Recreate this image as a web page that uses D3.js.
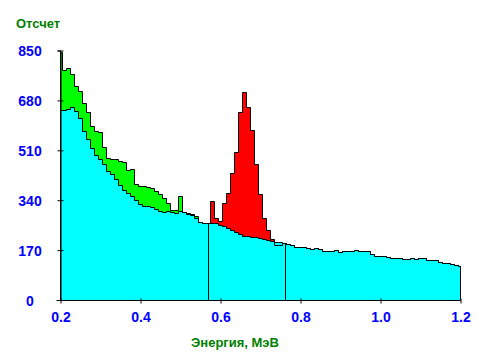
<!DOCTYPE html>
<html><head><meta charset="utf-8">
<script src="https://cdn.jsdelivr.net/npm/d3@7"></script>
<style>body{margin:0;background:#fff}svg{display:block}</style>
</head><body><svg id="c" width="500" height="360"></svg>
<script>
// channel centres: 0.20, 0.21 ... 1.20 MeV (width 0.01)
const energyStart = 0.2, energyStep = 0.01, energyMin = 0.2, energyMax = 1.2;
const total = [845,785,792,771,730,712,671,641,593,576,572,521,484,480,479,474,470,444,446,395,
  389,389,386,380,370,361,347,330,306,305,355,301,295,293,286,266,264,261,337,281,
  269,332,364,431,503,641,710,659,579,464,362,281,237,207,189,189,
  194,190,188,181,181,181,177,174,177,174,167,167,167,171,164,167,167,167,171,166,
  167,167,157,149,149,149,146,142,142,142,139,139,142,139,142,142,136,136,136,130,
  126,126,123,120,115];
const background = [648,646,651,658,643,620,576,549,517,495,480,464,440,430,412,393,375,364,354,340,
  328,320,320,316,310,303,299,303,300,296,304,299,292,288,278,266,264,261,264,261,
  256,252,246,239,230,224,217,217,214,214,210,208,204,202,198,198,
  194,190,188,181,181,181,177,174,177,174,167,167,167,171,164,167,167,167,171,166,
  167,167,157,149,149,149,146,142,142,142,139,139,142,139,142,142,136,136,136,130,
  126,126,123,120,115];
const roiBounds = [0.57, 0.76];
const xTicks = [0.2, 0.4, 0.6, 0.8, 1.0, 1.2];
const xTickLabels = ["0.2", "0.4", "0.6", "0.8", "1.0", "1.2"];
const yTicks = [0, 170, 340, 510, 680, 850];
const yTickLabels = ["0", "170", "340", "510", "680", "850"];

const svg = d3.select("#c");
const x = d3.scaleLinear().domain([energyMin, energyMax]).range([60.5, 460.5]);
const y = d3.scaleLinear().domain([0, 850]).range([300, 50.5]);
const py = v => Math.round(y(v)) + 0.5;

const chans = total.map((t, i) => {
  const e = energyStart + energyStep * i;
  return { e, x0: Math.max(energyMin, e - energyStep / 2), x1: Math.min(energyMax, e + energyStep / 2), t, b: background[i] };
});
function stepPts(list, f) {
  const p = [];
  list.forEach(c => { p.push([c.x0, f(c)]); p.push([c.x1, f(c)]); });
  return p;
}
const bgPts = stepPts(chans, c => c.b), totPts = stepPts(chans, c => c.t);

// cyan background fill
svg.append("path").datum(bgPts)
  .attr("d", d3.area().x(d => x(d[0])).y0(y(0)).y1(d => py(d[1])))
  .attr("fill", "#00ffff");

// excess above background: green below ROI, red inside ROI
const exArea = d3.area().x(d => x(d.x)).y0(d => py(d.b)).y1(d => py(d.t));
function exPts(list) {
  const p = [];
  list.forEach(c => {
    const t = Math.max(c.t, c.b);
    p.push({ x: c.x0, b: c.b, t }); p.push({ x: c.x1, b: c.b, t });
  });
  return p;
}
const segs = [
  { list: chans.filter(c => c.e < roiBounds[0]), color: "#00ff00" },
  { list: chans.filter(c => c.e >= roiBounds[0] && c.e <= roiBounds[1]), color: "#ff0000" }
];
segs.forEach(s => svg.append("path").datum(exPts(s.list)).attr("d", exArea).attr("fill", s.color));

const line = d3.line().x(d => x(d[0])).y(d => py(d[1]));
svg.append("path").datum(bgPts).attr("d", line).attr("fill", "none").attr("stroke", "#000").attr("stroke-width", 1);
svg.append("path").datum([[energyMin, 0], ...totPts, [energyMax, 0]]).attr("d", line)
  .attr("fill", "none").attr("stroke", "#000").attr("stroke-width", 1);

// ROI boundary lines
roiBounds.forEach(e => {
  const c = chans.find(c => e >= c.x0 && e < c.x1);
  svg.append("line").attr("x1", Math.round(x(e)) + 0.5).attr("x2", Math.round(x(e)) + 0.5)
    .attr("y1", y(0)).attr("y2", py(c.b))
    .attr("stroke", "#000").attr("stroke-width", 1);
});

// axes
const font = "'Liberation Sans', Arial, sans-serif";
const gx = svg.append("g").attr("transform", `translate(0,${y(0) + 0.5})`)
  .call(d3.axisBottom(x).tickValues(xTicks).tickFormat((d, i) => xTickLabels[i]).tickSizeOuter(0).tickSize(3).tickPadding(9));
gx.selectAll(".tick line").attr("y1", -2).attr("y2", 3);
gx.select(".domain").attr("d", `M${x(energyMin) - 4},0H${x(energyMax)}`);
gx.selectAll("text").attr("fill", "#0000ff").style("font", `bold 14px ${font}`);

const gy = svg.append("g").attr("transform", `translate(${x(energyMin)},0)`)
  .call(d3.axisLeft(y).tickValues(yTicks).tickFormat((d, i) => yTickLabels[i]).tickSizeOuter(0).tickSize(3));
gy.selectAll(".tick line").attr("x1", -3).attr("x2", 3);
gy.selectAll("text").attr("fill", "#0000ff").style("font", `bold 14px ${font}`)
  .attr("text-anchor", "middle").attr("x", 30 - x(energyMin)).attr("dy", "0.36em");
gy.selectAll(".domain, .tick line").attr("stroke", "#000");

svg.append("text").attr("x", 16).attr("y", 28).text("Отсчет")
  .attr("fill", "#008000").style("font", `bold 13px ${font}`);
svg.append("text").attr("x", 235).attr("y", 347).attr("text-anchor", "middle").text("Энергия, МэВ")
  .attr("fill", "#008000").style("font", `bold 13px ${font}`);
</script></body></html>
